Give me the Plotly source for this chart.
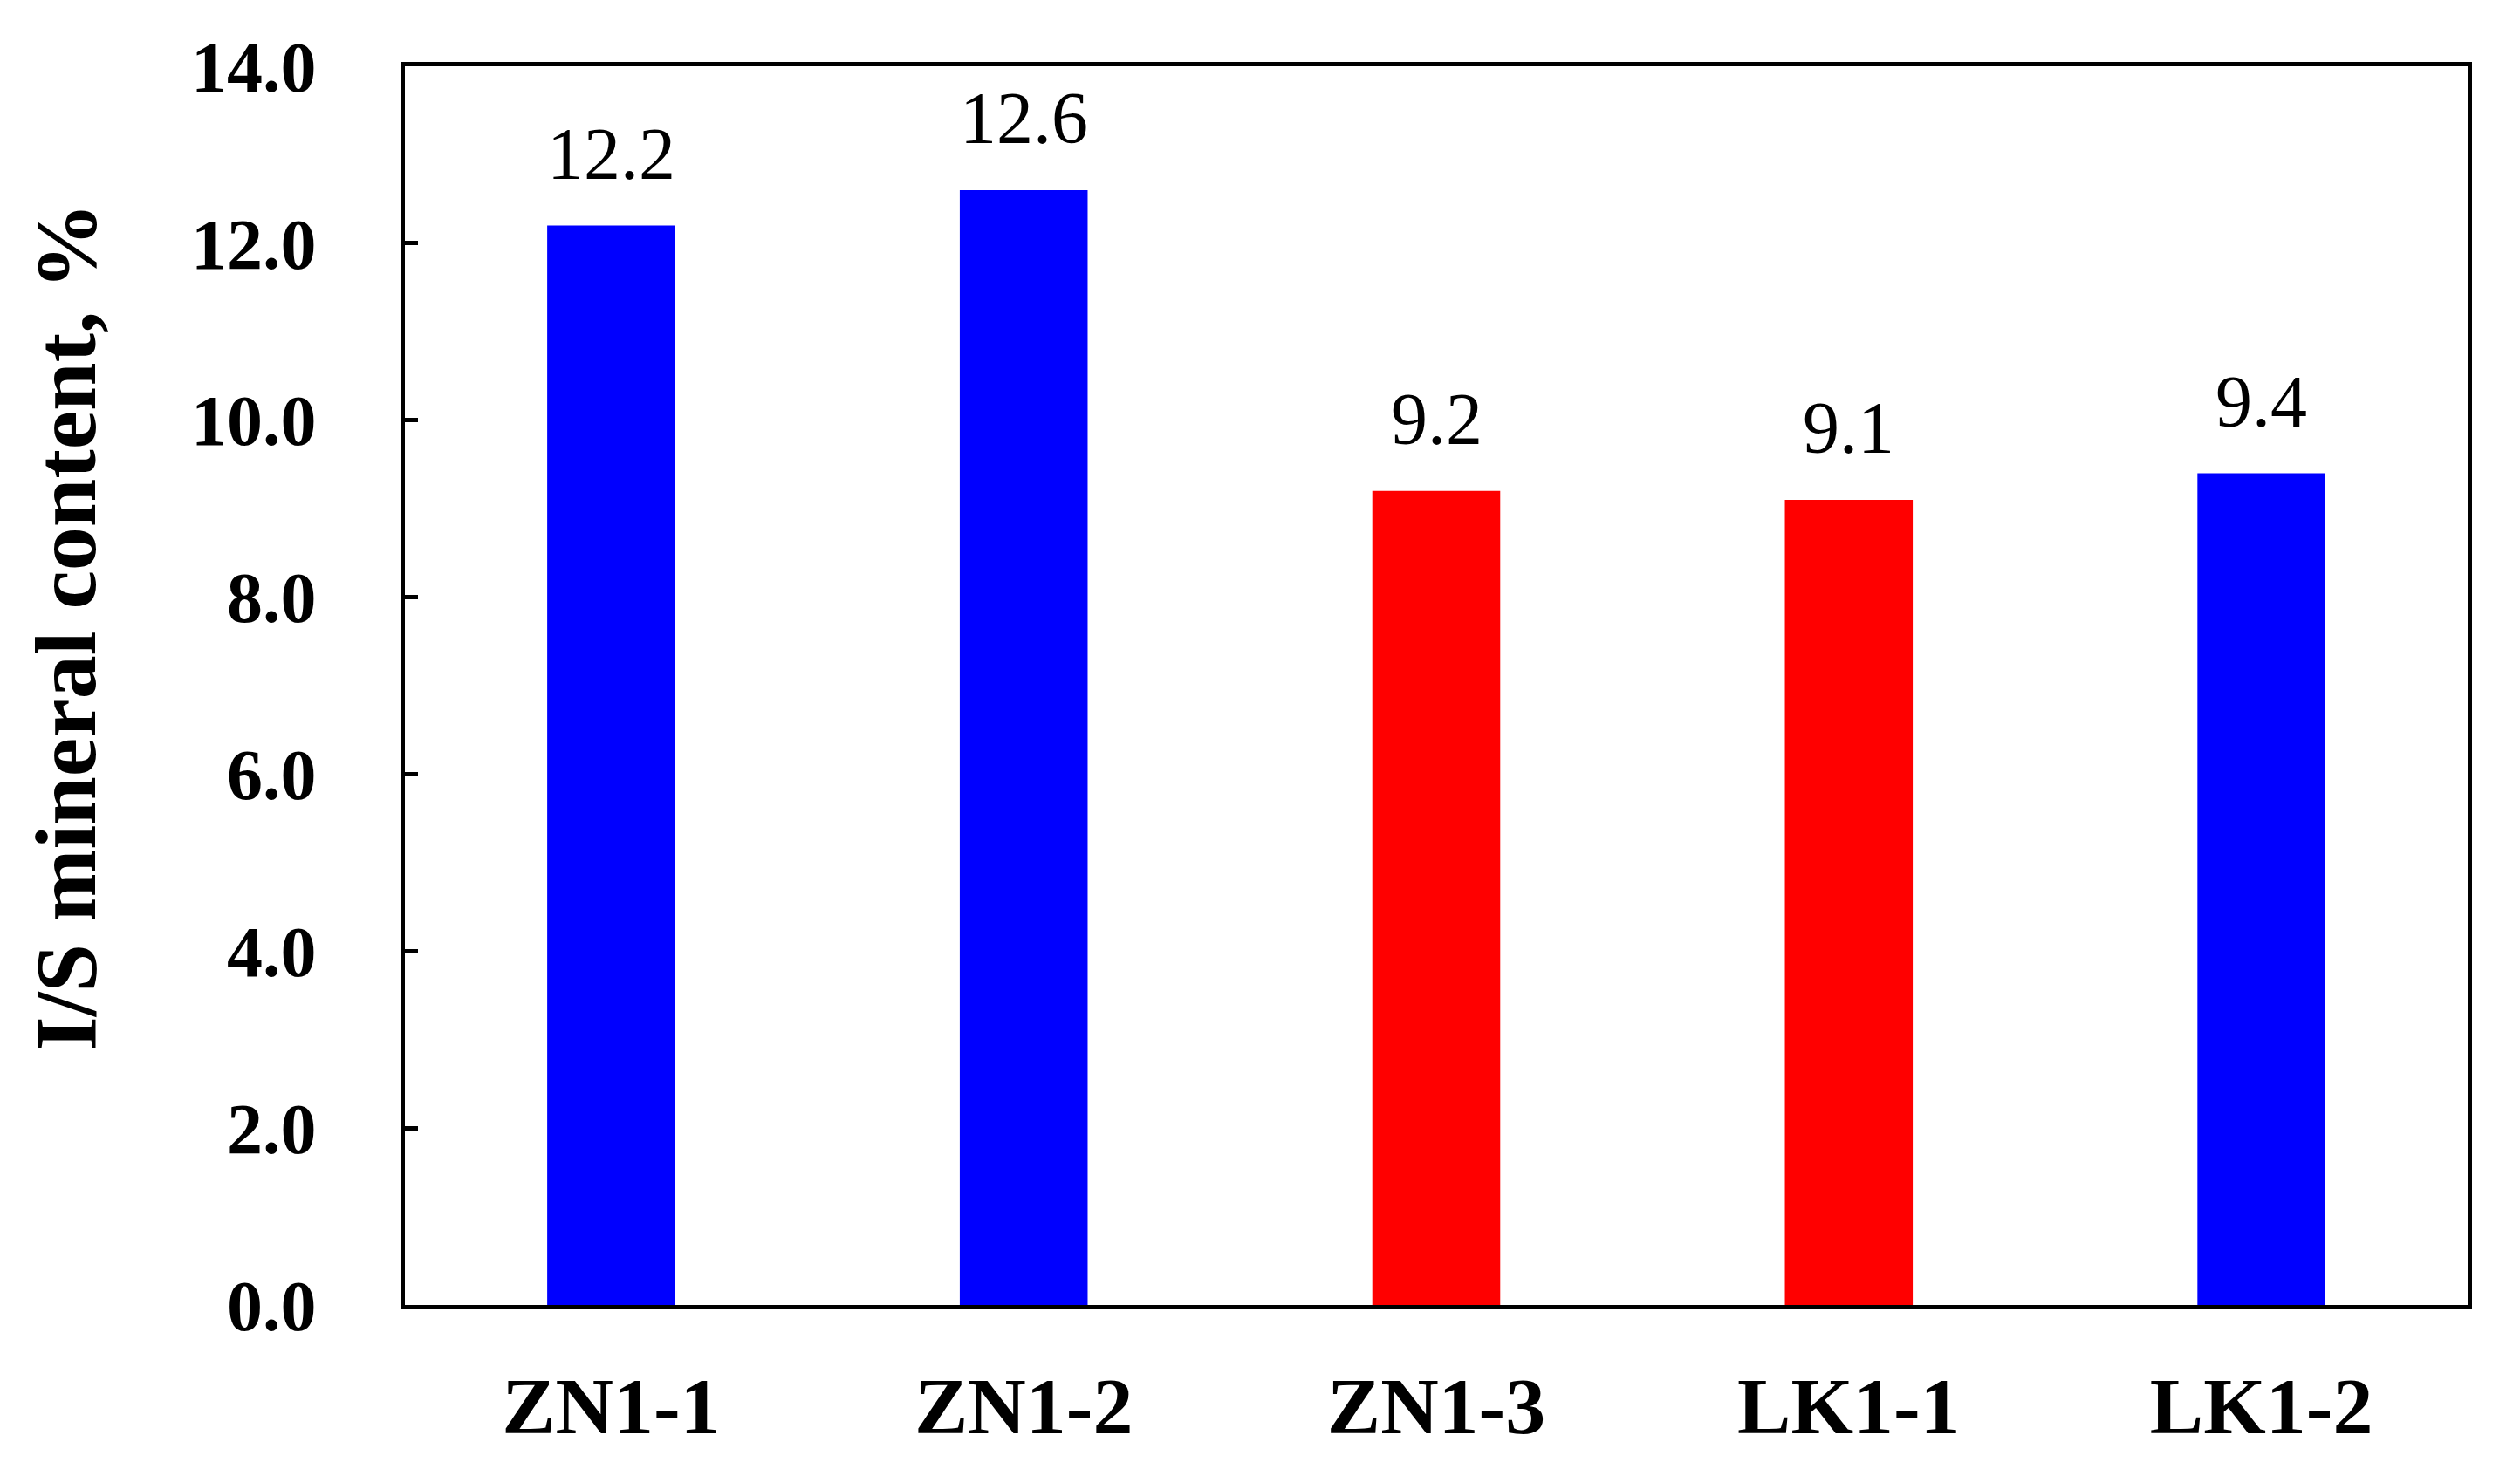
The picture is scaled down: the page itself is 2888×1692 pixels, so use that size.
import plotly.graph_objects as go

SERIF = "Liberation Serif, Times New Roman, serif"
BLUE = "#0000ff"
RED = "#ff0000"

samples = ["ZN1-1", "ZN1-2", "ZN1-3", "LK1-1", "LK1-2"]
is_content = [12.2, 12.6, 9.2, 9.1, 9.4]
bar_colours = [BLUE, BLUE, RED, RED, BLUE]

y_ticks = [0, 2, 4, 6, 8, 10, 12, 14]
y_title = "I/S mineral content, %"

fig = go.Figure()

fig.add_trace(
    go.Bar(
        x=samples,
        y=is_content,
        marker=dict(color=bar_colours, line=dict(width=0)),
        showlegend=False,
    )
)

# Value labels above each bar.
for name, value in zip(samples, is_content):
    fig.add_annotation(
        x=name,
        y=value,
        text=f"{value:.1f}",
        showarrow=False,
        yanchor="bottom",
        yshift=34,
        font=dict(family=SERIF, size=84, color="black"),
    )

# Y-axis title as an annotation so it can sit slightly above centre.
fig.add_annotation(
    text=f"<b>{y_title}</b>",
    xref="paper",
    yref="paper",
    x=-0.164,
    y=0.548,
    xanchor="center",
    yanchor="middle",
    textangle=-90,
    showarrow=False,
    font=dict(family=SERIF, size=100, color="black"),
)

fig.update_layout(
    width=2888,
    height=1692,
    paper_bgcolor="white",
    plot_bgcolor="white",
    margin=dict(l=456, r=68, t=68, b=204),
    bargap=0.69,
    font=dict(family=SERIF, color="black"),
)

fig.update_xaxes(
    showline=True,
    linecolor="black",
    linewidth=5,
    mirror=True,
    ticks="",
    showgrid=False,
    tickfont=dict(family=SERIF, size=92, weight="bold"),
    ticklabelstandoff=32,
)

fig.update_yaxes(
    range=[0, 14],
    tickvals=y_ticks,
    tickformat=".1f",
    showline=True,
    linecolor="black",
    linewidth=5,
    mirror=True,
    ticks="inside",
    ticklen=15,
    tickwidth=5,
    tickcolor="black",
    showgrid=False,
    zeroline=False,
    tickfont=dict(family=SERIF, size=82, weight="bold"),
    ticklabelstandoff=80,
)

fig.write_html("out.html")
